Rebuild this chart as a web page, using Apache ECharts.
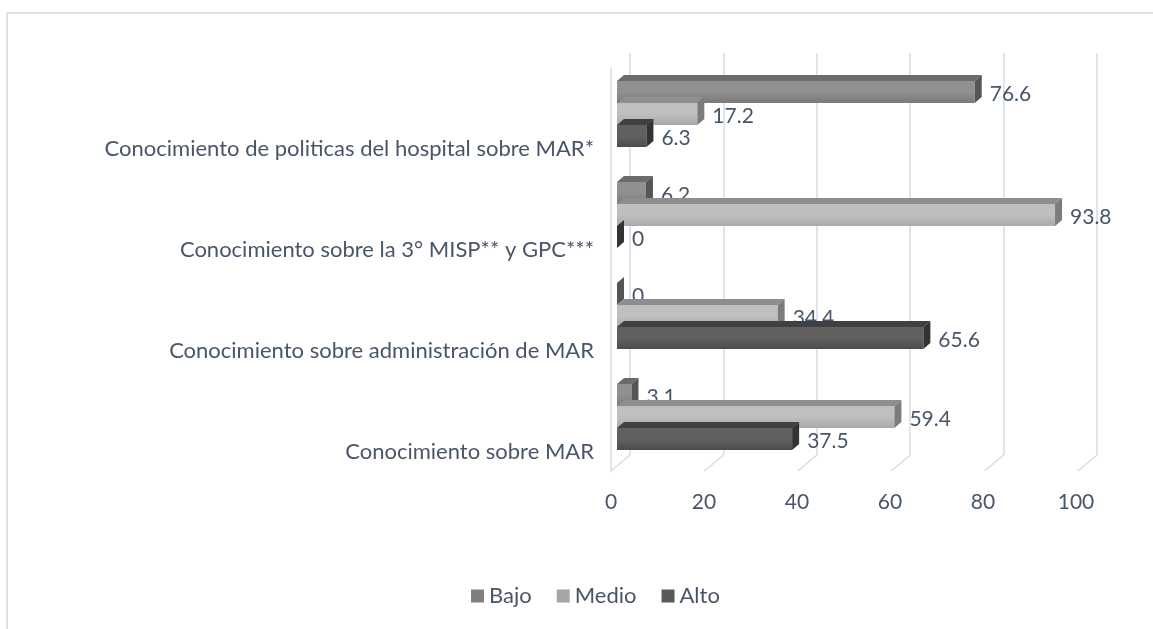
<!DOCTYPE html>
<html>
<head>
<meta charset="utf-8">
<script src="https://cdn.jsdelivr.net/npm/echarts@6/dist/echarts.min.js"></script>
<style>
  html, body { margin: 0; padding: 0; background: #fff; }
  #main { width: 1153px; height: 629px; }
</style>
</head>
<body>
<div id="main"></div>
<script>
// categorías de abajo hacia arriba
var categorias = [
    'Conocimiento sobre MAR',
    'Conocimiento sobre administración de MAR',
    'Conocimiento sobre la 3° MISP** y GPC***',
    'Conocimiento de politicas del hospital sobre MAR*'
];
var nombres = ['Bajo', 'Medio', 'Alto'];
var bajo = [3.1, 0, 6.2, 76.6];
var medio = [59.4, 34.4, 93.8, 17.2];
var alto = [37.5, 65.6, 0, 6.3];
var ticks = [0, 20, 40, 60, 80, 100];

var textColor = '#485669';
var lineColor = '#d6dce5';
var fuente = 'Lato';

// colores: leyenda, frente (arriba/abajo), cara superior, cara lateral
var colores = [
    { legend: '#7f7f7f', f1: '#909090', f2: '#7a7a7a', top: '#6b6b6b', side: '#555555' },
    { legend: '#a5a5a5', f1: '#bfbfbf', f2: '#a9a9a9', top: '#8e8e8e', side: '#7c7c7c' },
    { legend: '#595959', f1: '#616161', f2: '#4b4b4b', top: '#404040', side: '#333333' }
];

var myChart = echarts.init(document.getElementById('main'));

// barra con efecto 3D
function barra3D(idx) {
    var c = colores[idx];
    return function (params, api) {
        var v = api.value(0), cat = api.value(1);
        var p0 = api.coord([0, cat]);
        var p1 = api.coord([v, cat]);
        var band = api.size([0, 1])[1];
        var h = band * 0.218;
        var y = p0[1] - 1.5 * h + idx * h;
        var x0 = p0[0], x1 = p1[0];
        var dx = 7, dy = 6;
        return {
            type: 'group',
            children: [
                {
                    type: 'rect',
                    shape: { x: x0, y: y, width: x1 - x0, height: h },
                    style: {
                        fill: new echarts.graphic.LinearGradient(0, 0, 0, 1, [
                            { offset: 0, color: c.f1 },
                            { offset: 0.5, color: c.f1 },
                            { offset: 1, color: c.f2 }
                        ])
                    }
                },
                {
                    type: 'polygon',
                    shape: { points: [[x0, y], [x0 + dx, y - dy], [x1 + dx, y - dy], [x1, y]] },
                    style: { fill: c.top }
                },
                {
                    type: 'polygon',
                    shape: { points: [[x1, y], [x1 + dx, y - dy], [x1 + dx, y + h - dy], [x1, y + h]] },
                    style: { fill: c.side }
                },
                {
                    type: 'text',
                    style: {
                        x: x1 + dx + 8, y: y + h / 2 + 2,
                        text: String(v),
                        fill: textColor,
                        font: '21px ' + fuente,
                        verticalAlign: 'middle', align: 'left'
                    }
                }
            ]
        };
    };
}

// líneas del piso (diagonales)
function piso(params, api) {
    var v = api.value(0);
    var p = api.coord([v, 0]);
    var pts = [[p[0], p[1]], [p[0] - 19, p[1] + 16]];
    if (v === 0) pts.push([p[0] - 19, 68]);
    return {
        type: 'polyline',
        shape: { points: pts },
        style: { stroke: lineColor, lineWidth: 1.5, fill: null }
    };
}

var series = [];
[bajo, medio, alto].forEach(function (arr, i) {
    series.push({
        name: nombres[i],
        type: 'custom',
        xAxisIndex: 1, yAxisIndex: 1,
        itemStyle: { color: colores[i].legend },
        renderItem: barra3D(i),
        encode: { x: 0, y: 1 },
        data: arr.map(function (v, k) { return [v, k]; })
    });
});
series.push({
    type: 'custom',
    xAxisIndex: 0, yAxisIndex: 0,
    silent: true,
    renderItem: piso,
    encode: { x: 0 },
    data: ticks.map(function (t) { return [t]; }),
    z: 1
});

var option = {
    backgroundColor: '#fff',
    animation: false,
    textStyle: { fontFamily: fuente },
    legend: {
        data: nombres,
        left: 466, top: 580,
        icon: 'rect',
        itemWidth: 13, itemHeight: 13, itemGap: 25,
        textStyle: { color: textColor, fontSize: 22, fontFamily: fuente }
    },
    graphic: [
        { type: 'line', shape: { x1: 7, y1: 13, x2: 1153, y2: 13 }, style: { stroke: '#dde1e8', lineWidth: 2 } },
        { type: 'line', shape: { x1: 7, y1: 13, x2: 7, y2: 629 }, style: { stroke: '#dde1e8', lineWidth: 2 } }
    ],
    grid: [
        // pared del fondo
        { left: 630, width: 467, top: 53, height: 402, outerBoundsMode: 'none' },
        // barras
        { left: 617, width: 467, top: 63.5, height: 404, outerBoundsMode: 'none' },
        // frente: etiquetas del eje x
        { left: 611, width: 465, top: 68, height: 404, outerBoundsMode: 'none' },
        // etiquetas de categorías
        { left: 611, width: 465, top: 98, height: 404, outerBoundsMode: 'none' }
    ],
    xAxis: [
        {
            gridIndex: 0, type: 'value', min: 0, max: 100, interval: 20,
            axisLine: { show: false }, axisTick: { show: false }, axisLabel: { show: false },
            splitLine: { show: true, lineStyle: { color: lineColor, width: 1.5 } }
        },
        {
            gridIndex: 1, type: 'value', min: 0, max: 100, interval: 20,
            axisLine: { show: false }, axisTick: { show: false }, axisLabel: { show: false },
            splitLine: { show: false }
        },
        {
            gridIndex: 2, type: 'value', min: 0, max: 100, interval: 20,
            axisLine: { show: false }, axisTick: { show: false },
            splitLine: { show: false },
            axisLabel: { color: textColor, fontSize: 21, fontFamily: fuente, margin: 20 }
        },
        {
            gridIndex: 3, type: 'value', min: 0, max: 100, show: false
        }
    ],
    yAxis: [
        { gridIndex: 0, type: 'value', min: 0, max: 1, show: false },
        { gridIndex: 1, type: 'category', data: categorias, show: false },
        { gridIndex: 2, type: 'value', min: 0, max: 1, show: false },
        {
            gridIndex: 3, type: 'category', data: categorias,
            axisLine: { show: false }, axisTick: { show: false },
            axisLabel: { color: textColor, fontSize: 22, fontFamily: fuente, margin: 17 }
        }
    ],
    series: series
};

myChart.setOption(option);
</script>
</body>
</html>
